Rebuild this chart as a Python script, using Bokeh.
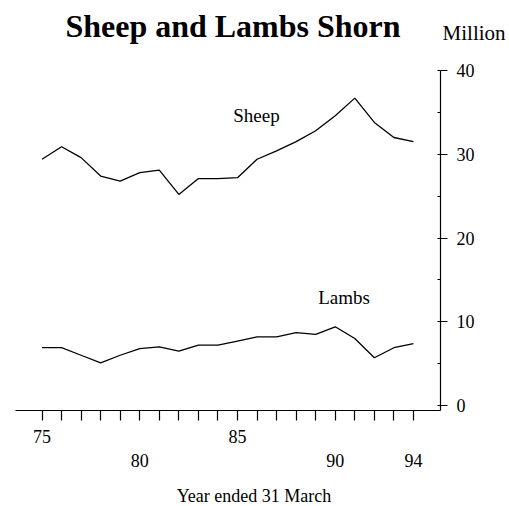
from bokeh.plotting import figure
from bokeh.models import LinearAxis, FixedTicker, SingleIntervalTicker, Label, Range1d, Grid
from bokeh.embed import file_html
from bokeh.resources import INLINE

# ---- data ----
years = list(range(75, 95))
sheep = [29.4, 30.9, 29.6, 27.4, 26.8, 27.8, 28.1, 25.2, 27.1, 27.1,
         27.2, 29.4, 30.4, 31.5, 32.8, 34.6, 36.7, 33.8, 32.0, 31.5]
lambs = [6.9, 6.9, 6.0, 5.1, 6.0, 6.8, 7.0, 6.5, 7.2, 7.2,
         7.7, 8.2, 8.2, 8.7, 8.5, 9.4, 8.0, 5.7, 6.9, 7.4]
row1_labels = [75, 85]
row2_labels = [80, 90, 94]

FONT = "Liberation Serif"
W, H = 507, 504

# scale: x page = 41.5 + (year-75)*19.55 ; y page = 405 - v*8.375
XS, X0 = 19.55, 41.5
YS, Y0 = 8.375, 405.0
x_start = 75 - X0 / XS
x_end = 75 + (W - X0) / XS
y_end = Y0 / YS
y_start = (Y0 - H) / YS
X_LEFT = 75 + (15 - X0) / XS     # start of the x axis line
X_AXIS = 75 + (440 - X0) / XS    # where the value axis stands
Y_AXIS = -0.6                    # where the year axis stands

p = figure(width=W, height=H, output_backend="svg", toolbar_location=None,
           x_range=Range1d(x_start, x_end), y_range=Range1d(y_start, y_end),
           x_axis_location=None, y_axis_location=None,
           min_border=0, min_border_left=0, min_border_right=0,
           min_border_top=0, min_border_bottom=0)
p.outline_line_color = None
p.background_fill_color = "white"
p.border_fill_color = "white"
for r in list(p.center):
    if isinstance(r, Grid):
        r.visible = False
        r.grid_line_color = None

# value axis on the right
ya = LinearAxis(ticker=SingleIntervalTicker(interval=10, num_minor_ticks=2),
                fixed_location=X_AXIS, bounds=(Y_AXIS, 40))
ya.axis_line_width = 1.2
ya.major_tick_out = 7
ya.major_tick_in = 0
ya.major_tick_line_width = 1.2
ya.minor_tick_in = 3
ya.minor_tick_out = 0
ya.major_label_standoff = 9
ya.major_label_text_font = FONT
ya.major_label_text_font_size = "18px"
ya.major_label_text_color = "black"
p.add_layout(ya, "right")

# year axis, first row of labels
xa1 = LinearAxis(ticker=FixedTicker(ticks=years), fixed_location=Y_AXIS,
                 bounds=(X_LEFT, X_AXIS))
xa1.major_label_overrides = {y: (str(y) if y in row1_labels else "") for y in years}
xa1.axis_line_width = 1.2
xa1.major_tick_in = 0
xa1.major_tick_out = 10
xa1.major_tick_line_width = 1.2
xa1.minor_tick_line_color = None
xa1.major_label_standoff = 9
xa1.major_label_text_font = FONT
xa1.major_label_text_font_size = "18px"
xa1.major_label_text_color = "black"
p.add_layout(xa1, "below")

# year axis, second row of labels + axis title
xa2 = LinearAxis(ticker=FixedTicker(ticks=row2_labels), fixed_location=Y_AXIS)
xa2.axis_line_color = None
xa2.major_tick_line_color = None
xa2.minor_tick_line_color = None
xa2.major_tick_in = 0
xa2.major_tick_out = 0
xa2.major_label_standoff = 43
xa2.major_label_text_font = FONT
xa2.major_label_text_font_size = "18px"
xa2.major_label_text_color = "black"
xa2.axis_label = "Year ended 31 March"
xa2.axis_label_text_font = FONT
xa2.axis_label_text_font_size = "18px"
xa2.axis_label_text_font_style = "normal"
xa2.axis_label_text_color = "black"
xa2.axis_label_standoff = 16
p.add_layout(xa2, "below")

# series
p.line(years, sheep, line_color="black", line_width=1.3)
p.line(years, lambs, line_color="black", line_width=1.3)

p.add_layout(Label(x=85.97, y=34.62, text="Sheep", text_align="center",
                   text_baseline="alphabetic", text_font=FONT,
                   text_font_size="19px", text_color="black"))
p.add_layout(Label(x=90.45, y=12.92, text="Lambs", text_align="center",
                   text_baseline="alphabetic", text_font=FONT,
                   text_font_size="19px", text_color="black"))

# title and unit
p.add_layout(Label(x=84.77, y=45.37, text="Sheep and Lambs Shorn",
                   text_align="center", text_baseline="alphabetic",
                   text_font=FONT, text_font_size="32px",
                   text_font_style="bold", text_color="black"))
p.add_layout(Label(x=95.49, y=44.42, text="Million", text_align="left",
                   text_baseline="alphabetic", text_font=FONT,
                   text_font_size="21px", text_color="black"))

open("out.html", "w").write(file_html(p, INLINE))
